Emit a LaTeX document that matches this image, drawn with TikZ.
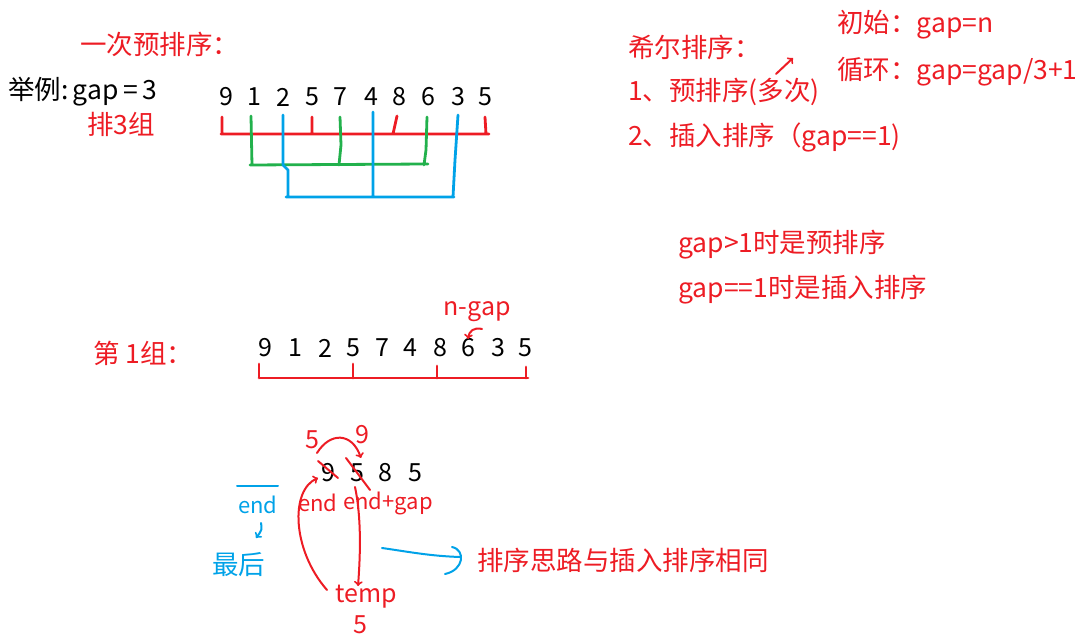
\documentclass[tikz,border=0pt]{standalone}
\usepackage{fontspec}
\setmainfont{Noto Sans CJK SC}
\definecolor{penred}{RGB}{237,28,36}
\definecolor{pengreen}{RGB}{34,177,76}
\definecolor{penblue}{RGB}{0,162,232}
\tikzset{
    txt/.style = {anchor=west, inner sep=0pt, font=\fontsize{26.5}{30}\selectfont},
    num/.style = {inner sep=0pt, font=\fontsize{25}{30}\selectfont},
    small/.style = {inner sep=0pt, font=\fontsize{22}{26}\selectfont},
    pen/.style = {line width=2pt, line cap=round, line join=round},
    thickpen/.style = {line width=2.8pt, line cap=round, line join=round}
}
\begin{document}
\begin{tikzpicture}[x = 1pt, y = -1pt]
    \useasboundingbox (0,0) rectangle (1088,644);
    % one pass of the pre-sort
    \node[txt, text=penred] (title) at (80,44) {一次预排序：};
    \node[txt] (example) at (8,92) {举例:\,gap\,=\,3};
    \node[txt, text=penred] (groups) at (87,124) {排3组};
    \foreach \d/\x [count=\i] in {9/226,1/254,2/283,5/312,7/340,4/371,8/399,6/428,3/458,5/485}
        \node[num] (top\i) at (\x,97) {\d};
    \draw[thickpen, penred]
    (222,117) -- (222,134) (312,117) -- (312,134) (397,116) -- (393,134) (485,117) -- (486,134)
    (221,134) -- (489,134);
    \draw[thickpen, pengreen]
    (251,116) -- (252,165) (340,117) -- (341,145) -- (339,165) (427,117) -- (426,150) -- (424,165)
    (250,165) -- (428,164);
    \draw[thickpen, penblue]
    (283,115) -- (283,165) -- (288,170) -- (288,197) (373,112) -- (373,197) (458,115) -- (455,160) -- (453,197)
    (286,197) -- (454,197);
    % shell sort notes
    \node[txt, text=penred] (shell) at (628,47) {希尔排序：};
    \node[txt, text=penred] (step1) at (628,92) {1、预排序(多次)};
    \node[txt, text=penred] (step2) at (628,137) {2、插入排序（gap==1)};
    \node[txt, text=penred] (init) at (837,25) {初始：gap=n};
    \node[txt, text=penred] (loop) at (837,72) {循环：gap=gap/3+1};
    \draw[pen, penred, ->] (776,74) -- (793,58);
    \node[txt, text=penred] (pre) at (678,245) {gap>1时是预排序};
    \node[txt, text=penred] (ins) at (678,290) {gap==1时是插入排序};
    % first group
    \node[txt, text=penred] (first) at (93,353) {第 1组：};
    \foreach \d/\x [count=\i] in {9/265,1/295,2/325,5/353,7/382,4/410,8/440,6/468,3/498,5/525}
        \node[num] (mid\i) at (\x,348) {\d};
    \node[num, text=penred] (ngap) at (477,312) {n-gap};
    \draw[pen, penred, ->] (482,329) .. controls (474,327) and (469,331) .. (468,339);
    \draw[thickpen, penred]
    (259,364) -- (259,378) (353,364) -- (353,378) (437,366) -- (437,378) (526,367) -- (526,378)
    (259,378) -- (528,378);
    % one insertion step
    \node[num, text=penred] (oldfive) at (312,440) {5};
    \node[num, text=penred] (oldnine) at (362,435) {9};
    \foreach \d/\x [count=\i] in {9/328,5/357,8/385,5/415}
        \node[num] (low\i) at (\x,473) {\d};
    \draw[pen, penred] (318,461) -- (338,478) (346,458) -- (370,490);
    \draw[pen, penred, ->] (317,453) .. controls (330,432) and (352,432) .. (361,458);
    \node[small, text=penred] (endl) at (318,503) {end};
    \node[small, text=penred] (endgap) at (388,503) {end+gap};
    \node[num, text=penred] (temp) at (366,597) {temp};
    \node[num, text=penred] (tempval) at (360,625) {5};
    \draw[pen, penred, ->] (327,590) .. controls (292,550) and (290,490) .. (318,478);
    \draw[pen, penred, ->] (355,487) .. controls (362,520) and (360,560) .. (358,586);
    \node[small, text=penblue] (endb) at (258,505) {end};
    \draw[pen, penblue] (237,486) -- (278,486);
    \draw[pen, penblue, ->] (261,523) .. controls (262,530) .. (256,538);
    \node[txt, text=penblue] (last) at (212,565) {最后};
    \draw[pen, penblue] (382,548) .. controls (410,552) and (430,556) .. (460,557)
    (452,547) .. controls (466,550) and (464,570) .. (445,574);
    \node[txt, text=penred] (same) at (477,560) {排序思路与插入排序相同};
\end{tikzpicture}
\end{document}
